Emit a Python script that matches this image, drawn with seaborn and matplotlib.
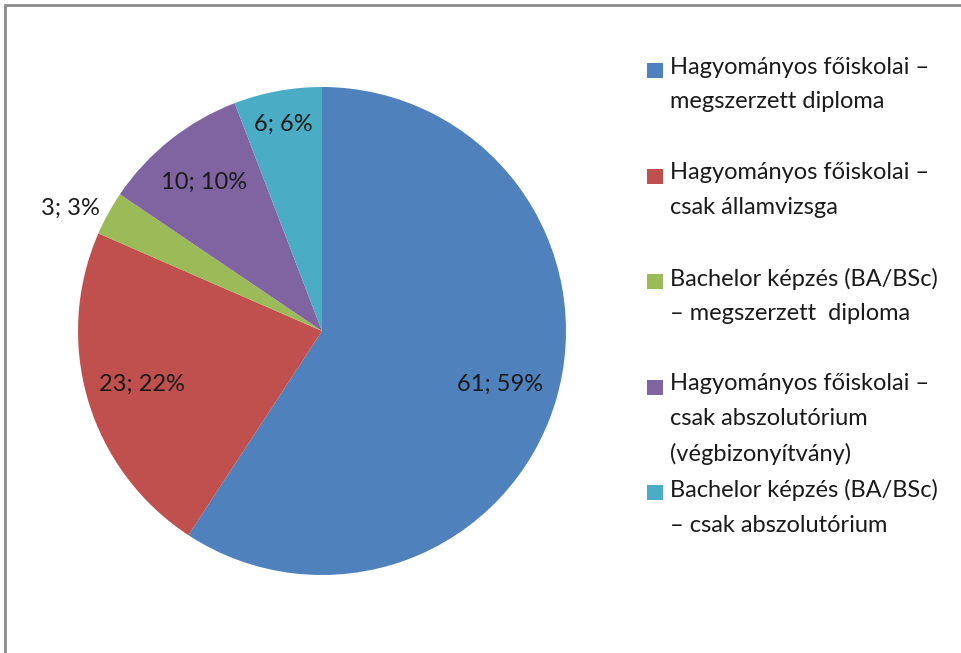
import matplotlib.pyplot as plt
import numpy as np
import seaborn as sns
from matplotlib.lines import Line2D
from matplotlib.patches import Rectangle

categories = [
    "Hagyományos főiskolai –\nmegszerzett diploma",
    "Hagyományos főiskolai –\ncsak államvizsga",
    "Bachelor képzés (BA/BSc)\n– megszerzett  diploma",
    "Hagyományos főiskolai –\ncsak abszolutórium\n(végbizonyítvány)",
    "Bachelor képzés (BA/BSc)\n– csak abszolutórium",
]
counts = [61, 23, 3, 10, 6]
colors = ["#4F81BD", "#C0504D", "#9BBB59", "#8064A2", "#4BACC6"]

# how far from the centre each data label sits (fraction of radius)
label_dist = [0.76, 0.77, 1.04, 0.78, 0.86]

sns.set_theme(style="white")
plt.rcParams["font.family"] = ["Lato", "DejaVu Sans"]
FS = 17
TXT = "#1a1a1a"

W, H = 962, 653
fig = plt.figure(figsize=(W / 100, H / 100), dpi=100)

# pie axes: centre (322, 331) px, radius 244 px
cx, cy, r = 322, 331, 244
ax = fig.add_axes([(cx - r) / W, (H - cy - r) / H, 2 * r / W, 2 * r / H])
wedges, _ = ax.pie(counts, colors=colors, startangle=90, counterclock=False,
                   radius=1, wedgeprops=dict(linewidth=0))
ax.set_xlim(-1, 1)
ax.set_ylim(-1, 1)
ax.set_aspect("equal")
ax.axis("off")

total = sum(counts)
for w, n, d in zip(wedges, counts, label_dist):
    mid = np.deg2rad((w.theta1 + w.theta2) / 2)
    x, y = d * np.cos(mid), d * np.sin(mid)
    # labels pushed outside the pie hang off its rim, like Excel does
    ha = "center" if d < 1 else ("right" if x < 0 else "left")
    ax.text(x, y, f"{n}; {round(100 * n / total)}%",
            ha=ha, va="center", fontsize=FS, color=TXT, clip_on=False)

# legend, drawn by hand so the entries keep an even pitch like the original
y0, step = 70.5, 105.6
for i, (lab, c) in enumerate(zip(categories, colors)):
    yc = y0 + i * step
    fig.patches.append(Rectangle((647 / W, (H - yc - 7.5) / H), 16 / W, 15 / H,
                                 transform=fig.transFigure, color=c, lw=0))
    fig.text(670 / W, (H - yc + 14) / H, lab, ha="left", va="top",
             fontsize=FS, color=TXT, linespacing=1.8)

# chart frame (only top and left edges visible in the crop)
frame = dict(color="#8c8c8c", lw=2, transform=fig.transFigure)
fig.add_artist(Line2D([5 / W, 1], [1 - 5 / H, 1 - 5 / H], **frame))
fig.add_artist(Line2D([5 / W, 5 / W], [0, 1 - 5 / H], **frame))

fig.savefig("out.png", dpi=100)
